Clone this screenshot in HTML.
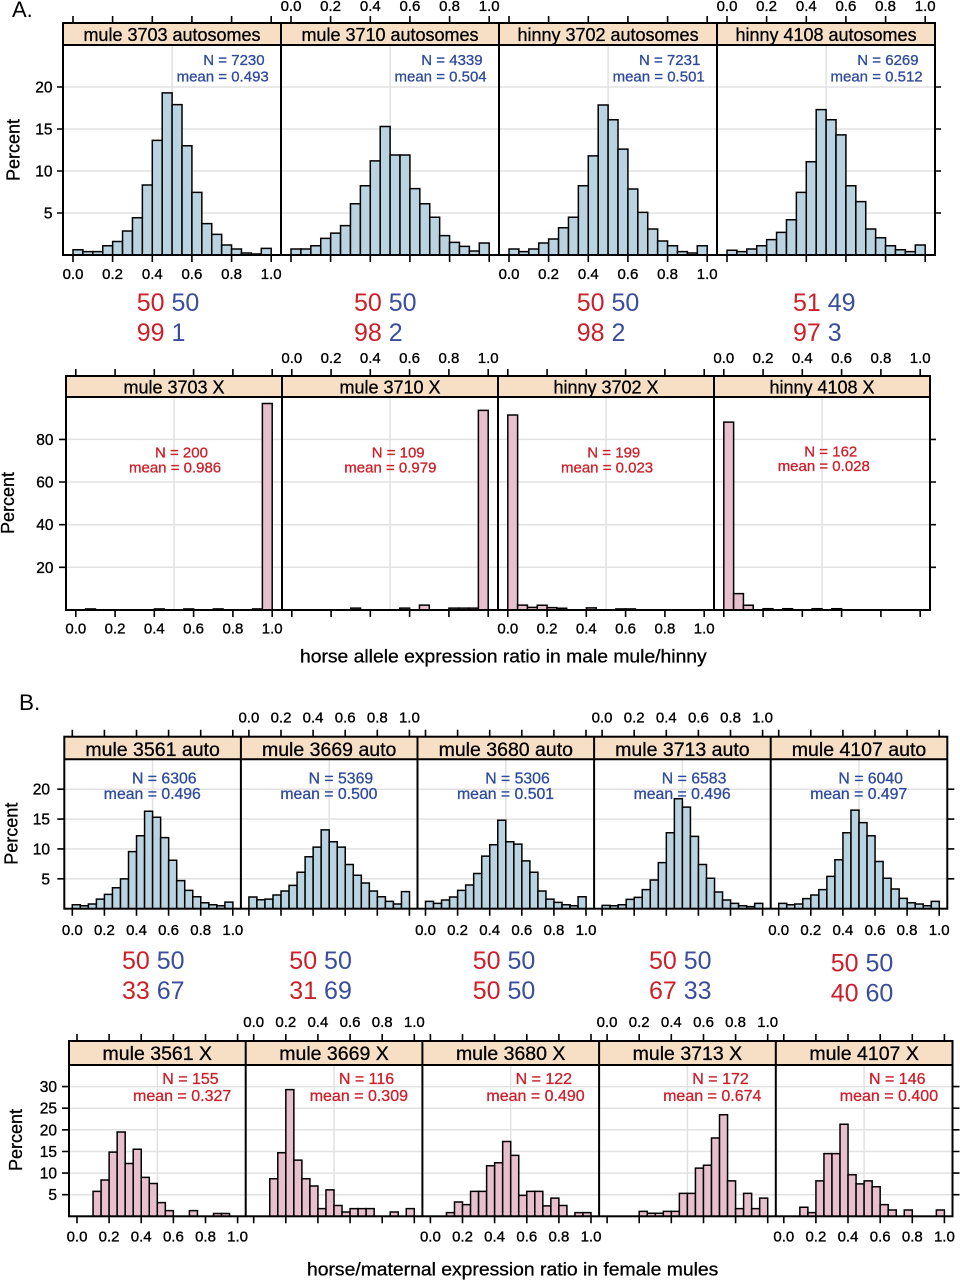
<!DOCTYPE html>
<html><head><meta charset="utf-8"><style>
html,body{margin:0;padding:0;background:#fff;}
svg{display:block;}
.h rect{vector-effect:non-scaling-stroke;}
.hb{fill:#b9d3e1;stroke:#000;stroke-width:1.5;}
.hp{fill:#e8bfcc;stroke:#000;stroke-width:1.5;}
.g{stroke:#e2e2e2;stroke-width:1.5;fill:none;}
.f{stroke:#000;stroke-width:2;fill:none;}
.t{stroke:#000;stroke-width:1.6;fill:none;}
.st{fill:#f7dfc6;}
text{font-family:"Liberation Sans",Arial,Helvetica,sans-serif;}
.tl{font-size:15px;fill:#000;text-anchor:middle;stroke:#000;stroke-width:0.35;}
.yl{font-size:15.5px;fill:#000;text-anchor:end;stroke:#000;stroke-width:0.35;}
.sa{font-size:18px;text-anchor:middle;fill:#000;stroke:#000;stroke-width:0.3;}
.sb{font-size:19.5px;text-anchor:middle;fill:#000;stroke:#000;stroke-width:0.3;}
.nb{font-size:15px;fill:#2f4b9b;stroke:#2f4b9b;stroke-width:0.3;}
.nb2{font-size:15.8px;fill:#2f4b9b;stroke:#2f4b9b;stroke-width:0.3;}
.nr{font-size:15px;fill:#cd1f2a;stroke:#cd1f2a;stroke-width:0.3;}
.nr2{font-size:16px;fill:#cd1f2a;stroke:#cd1f2a;stroke-width:0.3;}
.big{font-size:25px;}
.R{fill:#cc1f2a;}
.B{fill:#3a4d9c;}
.pc{font-size:18px;fill:#000;text-anchor:middle;stroke:#000;stroke-width:0.3;}
.ttl{fill:#000;stroke:#000;stroke-width:0.3;}
</style></head><body>
<svg width="960" height="1280" viewBox="0 0 960 1280" xmlns="http://www.w3.org/2000/svg">

<!-- ===================== A. autosomes ===================== -->
<text x="12" y="17" font-size="22" fill="#000">A.</text>
<rect class="st" x="63" y="23" width="872" height="22"/>
<path class="g" d="M63 213H935M63 171H935M63 129H935M63 87H935M172.1 45V255M390.1 45V255M608.1 45V255M826.1 45V255"/>
<g class="h hb" transform="translate(73,255) scale(9.91,-8.4)">
<rect x="0" width="1" height="0.63"/><rect x="1" width="1" height="0.4"/><rect x="2" width="1" height="0.4"/><rect x="3" width="1" height="1.1"/><rect x="4" width="1" height="1.6"/><rect x="5" width="1" height="2.86"/><rect x="6" width="1" height="4.44"/><rect x="7" width="1" height="8.33"/><rect x="8" width="1" height="13.65"/><rect x="9" width="1" height="19.3"/><rect x="10" width="1" height="17.9"/><rect x="11" width="1" height="13.0"/><rect x="12" width="1" height="7.46"/><rect x="13" width="1" height="3.73"/><rect x="14" width="1" height="2.46"/><rect x="15" width="1" height="1.19"/><rect x="16" width="1" height="0.71"/><rect x="17" width="1" height="0.24"/><rect x="18" width="1" height="0.12"/><rect x="19" width="1" height="0.79"/>
</g>
<g class="h hb" transform="translate(291,255) scale(9.91,-8.4)">
<rect x="0" width="1" height="0.71"/><rect x="1" width="1" height="0.71"/><rect x="2" width="1" height="1.1"/><rect x="3" width="1" height="1.98"/><rect x="4" width="1" height="2.6"/><rect x="5" width="1" height="3.5"/><rect x="6" width="1" height="6.1"/><rect x="7" width="1" height="8.25"/><rect x="8" width="1" height="11.2"/><rect x="9" width="1" height="15.3"/><rect x="10" width="1" height="11.9"/><rect x="11" width="1" height="11.9"/><rect x="12" width="1" height="7.9"/><rect x="13" width="1" height="6.1"/><rect x="14" width="1" height="4.5"/><rect x="15" width="1" height="2.3"/><rect x="16" width="1" height="1.5"/><rect x="17" width="1" height="1.03"/><rect x="18" width="1" height="0.48"/><rect x="19" width="1" height="1.43"/>
</g>
<g class="h hb" transform="translate(509,255) scale(9.91,-8.4)">
<rect x="0" width="1" height="0.71"/><rect x="1" width="1" height="0.4"/><rect x="2" width="1" height="0.71"/><rect x="3" width="1" height="1.43"/><rect x="4" width="1" height="1.9"/><rect x="5" width="1" height="3.25"/><rect x="6" width="1" height="4.5"/><rect x="7" width="1" height="8.25"/><rect x="8" width="1" height="11.8"/><rect x="9" width="1" height="17.86"/><rect x="10" width="1" height="16.1"/><rect x="11" width="1" height="12.6"/><rect x="12" width="1" height="7.86"/><rect x="13" width="1" height="5.08"/><rect x="14" width="1" height="3.1"/><rect x="15" width="1" height="1.67"/><rect x="16" width="1" height="1.1"/><rect x="17" width="1" height="0.4"/><rect x="18" width="1" height="0.24"/><rect x="19" width="1" height="1.1"/>
</g>
<g class="h hb" transform="translate(727,255) scale(9.91,-8.4)">
<rect x="0" width="1" height="0.56"/><rect x="1" width="1" height="0.4"/><rect x="2" width="1" height="0.71"/><rect x="3" width="1" height="1.1"/><rect x="4" width="1" height="1.83"/><rect x="5" width="1" height="2.7"/><rect x="6" width="1" height="4.2"/><rect x="7" width="1" height="7.46"/><rect x="8" width="1" height="11.1"/><rect x="9" width="1" height="17.3"/><rect x="10" width="1" height="16.1"/><rect x="11" width="1" height="14.3"/><rect x="12" width="1" height="8.25"/><rect x="13" width="1" height="6.35"/><rect x="14" width="1" height="3.1"/><rect x="15" width="1" height="2.06"/><rect x="16" width="1" height="1.1"/><rect x="17" width="1" height="0.63"/><rect x="18" width="1" height="0.4"/><rect x="19" width="1" height="1.19"/>
</g>
<rect class="f" x="63" y="23" width="872" height="232"/>
<path class="f" d="M63 45H935M281 23V255M499 23V255M717 23V255"/>
<path class="t" d="M73 255v7M112.6 255v7M152.3 255v7M191.9 255v7M231.6 255v7M271.2 255v7M291 255v7M330.6 255v7M370.3 255v7M409.9 255v7M449.6 255v7M489.2 255v7M509 255v7M548.6 255v7M588.3 255v7M627.9 255v7M667.6 255v7M707.2 255v7M727 255v7M766.6 255v7M806.3 255v7M845.9 255v7M885.6 255v7M925.2 255v7
M73 23v-7M112.6 23v-7M152.3 23v-7M191.9 23v-7M231.6 23v-7M271.2 23v-7M291 23v-7M330.6 23v-7M370.3 23v-7M409.9 23v-7M449.6 23v-7M489.2 23v-7M509 23v-7M548.6 23v-7M588.3 23v-7M627.9 23v-7M667.6 23v-7M707.2 23v-7M727 23v-7M766.6 23v-7M806.3 23v-7M845.9 23v-7M885.6 23v-7M925.2 23v-7
M63 87h-6M63 129h-6M63 171h-6M63 213h-6M935 87h6M935 129h6M935 171h6M935 213h6"/>
<g class="tl">
<text x="73" y="279">0.0</text><text x="112.6" y="279">0.2</text><text x="152.3" y="279">0.4</text><text x="191.9" y="279">0.6</text><text x="231.6" y="279">0.8</text><text x="271.2" y="279">1.0</text>
<text x="509" y="279">0.0</text><text x="548.6" y="279">0.2</text><text x="588.3" y="279">0.4</text><text x="627.9" y="279">0.6</text><text x="667.6" y="279">0.8</text><text x="707.2" y="279">1.0</text>
<text x="291" y="11">0.0</text><text x="330.6" y="11">0.2</text><text x="370.3" y="11">0.4</text><text x="409.9" y="11">0.6</text><text x="449.6" y="11">0.8</text><text x="489.2" y="11">1.0</text>
<text x="727" y="11">0.0</text><text x="766.6" y="11">0.2</text><text x="806.3" y="11">0.4</text><text x="845.9" y="11">0.6</text><text x="885.6" y="11">0.8</text><text x="925.2" y="11">1.0</text>
</g>
<g class="yl"><text x="52.5" y="92.5">20</text><text x="52.5" y="134.5">15</text><text x="52.5" y="176.5">10</text><text x="52.5" y="218.5">5</text></g>
<text class="pc" font-size="17.5" transform="translate(19.5,150) rotate(-90)">Percent</text>
<g class="sa"><text x="172" y="41">mule 3703 autosomes</text><text x="390" y="41">mule 3710 autosomes</text><text x="608" y="41">hinny 3702 autosomes</text><text x="826" y="41">hinny 4108 autosomes</text></g>
<g class="nb">
<text x="203.3" y="65">N = 7230</text><text x="176.6" y="81.5">mean = 0.493</text>
<text x="421.3" y="65">N = 4339</text><text x="394.5" y="81.5">mean = 0.504</text>
<text x="639" y="65">N = 7231</text><text x="612.6" y="81.5">mean = 0.501</text>
<text x="857.3" y="65">N = 6269</text><text x="830.5" y="81.5">mean = 0.512</text>
</g>
<g class="big">
<text x="136.7" y="311"><tspan class="R">50</tspan><tspan class="B"> 50</tspan></text>
<text x="136.7" y="341"><tspan class="R">99</tspan><tspan class="B"> 1</tspan></text>
<text x="354" y="311"><tspan class="R">50</tspan><tspan class="B"> 50</tspan></text>
<text x="354" y="341"><tspan class="R">98</tspan><tspan class="B"> 2</tspan></text>
<text x="576.7" y="311"><tspan class="R">50</tspan><tspan class="B"> 50</tspan></text>
<text x="576.7" y="341"><tspan class="R">98</tspan><tspan class="B"> 2</tspan></text>
<text x="793" y="311"><tspan class="R">51</tspan><tspan class="B"> 49</tspan></text>
<text x="793" y="341"><tspan class="R">97</tspan><tspan class="B"> 3</tspan></text>
</g>

<!-- ===================== A. X ===================== -->
<rect class="st" x="66" y="376" width="864" height="21"/>
<path class="g" d="M66 567.3H930M66 524.7H930M66 482H930M66 439.4H930M174 397V610M390 397V610M606 397V610M822 397V610"/>
<g class="h hp" transform="translate(75.8,610) scale(9.82,-2.133)">
<rect x="1" width="1" height="0.5"/><rect x="8" width="1" height="0.5"/><rect x="11" width="1" height="0.5"/><rect x="14" width="1" height="0.5"/><rect x="18" width="1" height="0.5"/><rect x="19" width="1" height="96.8"/>
</g>
<g class="h hp" transform="translate(291.8,610) scale(9.82,-2.133)">
<rect x="6" width="1" height="0.9"/><rect x="11" width="1" height="0.9"/><rect x="13" width="1" height="2.3"/><rect x="16" width="1" height="0.9"/><rect x="17" width="1" height="0.9"/><rect x="18" width="1" height="0.9"/><rect x="19" width="1" height="93.6"/>
</g>
<g class="h hp" transform="translate(507.8,610) scale(9.82,-2.133)">
<rect x="0" width="1" height="91.4"/><rect x="1" width="1" height="2.3"/><rect x="2" width="1" height="1.25"/><rect x="3" width="1" height="2.2"/><rect x="4" width="1" height="1.1"/><rect x="5" width="1" height="0.8"/><rect x="8" width="1" height="1.0"/><rect x="11" width="1" height="0.5"/><rect x="12" width="1" height="0.5"/>
</g>
<g class="h hp" transform="translate(723.8,610) scale(9.82,-2.133)">
<rect x="0" width="1" height="88.1"/><rect x="1" width="1" height="7.65"/><rect x="2" width="1" height="2.2"/><rect x="4" width="1" height="0.6"/><rect x="6" width="1" height="0.6"/><rect x="9" width="1" height="0.6"/><rect x="11" width="1" height="0.6"/>
</g>
<rect class="f" x="66" y="376" width="864" height="234"/>
<path class="f" d="M66 397H930M282 376V610M498 376V610M714 376V610"/>
<path class="t" d="M75.8 610v7M115.1 610v7M154.3 610v7M193.6 610v7M232.9 610v7M272.2 610v7M291.8 610v7M331.1 610v7M370.3 610v7M409.6 610v7M448.9 610v7M488.2 610v7M507.8 610v7M547.1 610v7M586.3 610v7M625.6 610v7M664.9 610v7M704.2 610v7M723.8 610v7M763.1 610v7M802.3 610v7M841.6 610v7M880.9 610v7M920.2 610v7
M75.8 376v-7M115.1 376v-7M154.3 376v-7M193.6 376v-7M232.9 376v-7M272.2 376v-7M291.8 376v-7M331.1 376v-7M370.3 376v-7M409.6 376v-7M448.9 376v-7M488.2 376v-7M507.8 376v-7M547.1 376v-7M586.3 376v-7M625.6 376v-7M664.9 376v-7M704.2 376v-7M723.8 376v-7M763.1 376v-7M802.3 376v-7M841.6 376v-7M880.9 376v-7M920.2 376v-7
M66 439.4h-7M66 482h-7M66 524.7h-7M66 567.3h-7M930 439.4h6M930 482h6M930 524.7h6M930 567.3h6"/>
<g class="tl">
<text x="75.8" y="633.5">0.0</text><text x="115.1" y="633.5">0.2</text><text x="154.3" y="633.5">0.4</text><text x="193.6" y="633.5">0.6</text><text x="232.9" y="633.5">0.8</text><text x="272.2" y="633.5">1.0</text>
<text x="507.8" y="633.5">0.0</text><text x="547.1" y="633.5">0.2</text><text x="586.3" y="633.5">0.4</text><text x="625.6" y="633.5">0.6</text><text x="664.9" y="633.5">0.8</text><text x="704.2" y="633.5">1.0</text>
<text x="291.8" y="363">0.0</text><text x="331.1" y="363">0.2</text><text x="370.3" y="363">0.4</text><text x="409.6" y="363">0.6</text><text x="448.9" y="363">0.8</text><text x="488.2" y="363">1.0</text>
<text x="723.8" y="363">0.0</text><text x="763.1" y="363">0.2</text><text x="802.3" y="363">0.4</text><text x="841.6" y="363">0.6</text><text x="880.9" y="363">0.8</text><text x="920.2" y="363">1.0</text>
</g>
<g class="yl"><text x="53.5" y="444.9">80</text><text x="53.5" y="487.5">60</text><text x="53.5" y="530.2">40</text><text x="53.5" y="572.8">20</text></g>
<text class="pc" font-size="17.5" transform="translate(14,503) rotate(-90)">Percent</text>
<g class="sa"><text x="174" y="393.3">mule 3703 X</text><text x="390" y="393.3">mule 3710 X</text><text x="606" y="393.3">hinny 3702 X</text><text x="822" y="393.3">hinny 4108 X</text></g>
<g class="nr">
<text x="155" y="457.7">N = 200</text><text x="129" y="472.7">mean = 0.986</text>
<text x="371.7" y="457.7">N = 109</text><text x="344.3" y="472.7">mean = 0.979</text>
<text x="587.3" y="457.7">N = 199</text><text x="561" y="472.7">mean = 0.023</text>
<text x="804.3" y="456.7">N = 162</text><text x="777.7" y="471.2">mean = 0.028</text>
</g>
<text class="ttl" x="300" y="662.7" font-size="18" textLength="406.7" lengthAdjust="spacingAndGlyphs">horse allele expression ratio in male mule/hinny</text>

<!-- ===================== B. auto ===================== -->
<text x="19" y="710" font-size="22.5" fill="#000">B.</text>
<rect class="st" x="64.3" y="736.7" width="883" height="22.6"/>
<path class="g" d="M64.3 878.8H947.3M64.3 848.9H947.3M64.3 819.1H947.3M64.3 789.2H947.3M152.6 759.3V908.7M329.2 759.3V908.7M505.8 759.3V908.7M682.4 759.3V908.7M859 759.3V908.7"/>
<g class="h hb" transform="translate(72.3,908.7) scale(8.03,-5.976)">
<rect x="0" width="1" height="0.67"/><rect x="1" width="1" height="0.5"/><rect x="2" width="1" height="0.78"/><rect x="3" width="1" height="1.6"/><rect x="4" width="1" height="2.4"/><rect x="5" width="1" height="3.5"/><rect x="6" width="1" height="5.0"/><rect x="7" width="1" height="9.55"/><rect x="8" width="1" height="12.2"/><rect x="9" width="1" height="16.3"/><rect x="10" width="1" height="15.3"/><rect x="11" width="1" height="11.9"/><rect x="12" width="1" height="8.1"/><rect x="13" width="1" height="4.7"/><rect x="14" width="1" height="3.07"/><rect x="15" width="1" height="2.0"/><rect x="16" width="1" height="1.0"/><rect x="17" width="1" height="0.67"/><rect x="18" width="1" height="0.5"/><rect x="19" width="1" height="1.1"/>
</g>
<g class="h hb" transform="translate(248.9,908.7) scale(8.03,-5.976)">
<rect x="0" width="1" height="1.96"/><rect x="1" width="1" height="1.5"/><rect x="2" width="1" height="1.6"/><rect x="3" width="1" height="2.3"/><rect x="4" width="1" height="2.96"/><rect x="5" width="1" height="3.9"/><rect x="6" width="1" height="6.1"/><rect x="7" width="1" height="8.7"/><rect x="8" width="1" height="10.3"/><rect x="9" width="1" height="13.2"/><rect x="10" width="1" height="11.2"/><rect x="11" width="1" height="10.3"/><rect x="12" width="1" height="7.4"/><rect x="13" width="1" height="5.6"/><rect x="14" width="1" height="4.3"/><rect x="15" width="1" height="2.96"/><rect x="16" width="1" height="2.0"/><rect x="17" width="1" height="1.23"/><rect x="18" width="1" height="0.78"/><rect x="19" width="1" height="2.85"/>
</g>
<g class="h hb" transform="translate(425.5,908.7) scale(8.03,-5.976)">
<rect x="0" width="1" height="1.23"/><rect x="1" width="1" height="0.9"/><rect x="2" width="1" height="1.45"/><rect x="3" width="1" height="1.96"/><rect x="4" width="1" height="3.07"/><rect x="5" width="1" height="3.97"/><rect x="6" width="1" height="5.9"/><rect x="7" width="1" height="8.8"/><rect x="8" width="1" height="10.7"/><rect x="9" width="1" height="14.8"/><rect x="10" width="1" height="11.2"/><rect x="11" width="1" height="10.8"/><rect x="12" width="1" height="8.0"/><rect x="13" width="1" height="6.1"/><rect x="14" width="1" height="2.96"/><rect x="15" width="1" height="1.6"/><rect x="16" width="1" height="1.06"/><rect x="17" width="1" height="0.67"/><rect x="18" width="1" height="0.5"/><rect x="19" width="1" height="2.0"/>
</g>
<g class="h hb" transform="translate(602.1,908.7) scale(8.03,-5.976)">
<rect x="0" width="1" height="0.56"/><rect x="1" width="1" height="0.5"/><rect x="2" width="1" height="0.67"/><rect x="3" width="1" height="1.56"/><rect x="4" width="1" height="1.9"/><rect x="5" width="1" height="3.2"/><rect x="6" width="1" height="4.8"/><rect x="7" width="1" height="7.7"/><rect x="8" width="1" height="12.7"/><rect x="9" width="1" height="18.4"/><rect x="10" width="1" height="17.0"/><rect x="11" width="1" height="12.1"/><rect x="12" width="1" height="7.4"/><rect x="13" width="1" height="5.1"/><rect x="14" width="1" height="2.8"/><rect x="15" width="1" height="1.45"/><rect x="16" width="1" height="0.9"/><rect x="17" width="1" height="0.5"/><rect x="18" width="1" height="0.34"/><rect x="19" width="1" height="0.9"/>
</g>
<g class="h hb" transform="translate(778.7,908.7) scale(8.03,-5.976)">
<rect x="0" width="1" height="0.9"/><rect x="1" width="1" height="0.67"/><rect x="2" width="1" height="0.78"/><rect x="3" width="1" height="1.68"/><rect x="4" width="1" height="2.3"/><rect x="5" width="1" height="3.2"/><rect x="6" width="1" height="5.4"/><rect x="7" width="1" height="8.2"/><rect x="8" width="1" height="12.7"/><rect x="9" width="1" height="16.5"/><rect x="10" width="1" height="14.4"/><rect x="11" width="1" height="12.2"/><rect x="12" width="1" height="7.9"/><rect x="13" width="1" height="5.1"/><rect x="14" width="1" height="3.3"/><rect x="15" width="1" height="1.73"/><rect x="16" width="1" height="1.0"/><rect x="17" width="1" height="0.78"/><rect x="18" width="1" height="0.5"/><rect x="19" width="1" height="1.23"/>
</g>
<rect class="f" x="64.3" y="736.7" width="883" height="172"/>
<path class="f" d="M64.3 759.3H947.3M240.9 736.7V908.7M417.5 736.7V908.7M594.1 736.7V908.7M770.7 736.7V908.7"/>
<path class="t" d="M72.3 908.7v7M104.4 908.7v7M136.5 908.7v7M168.6 908.7v7M200.7 908.7v7M232.8 908.7v7M248.9 908.7v7M281 908.7v7M313.1 908.7v7M345.2 908.7v7M377.3 908.7v7M409.4 908.7v7M425.5 908.7v7M457.6 908.7v7M489.7 908.7v7M521.8 908.7v7M553.9 908.7v7M586 908.7v7M602.1 908.7v7M634.2 908.7v7M666.3 908.7v7M698.4 908.7v7M730.5 908.7v7M762.6 908.7v7M778.7 908.7v7M810.8 908.7v7M842.9 908.7v7M875 908.7v7M907.1 908.7v7M939.2 908.7v7
M72.3 736.7v-7M104.4 736.7v-7M136.5 736.7v-7M168.6 736.7v-7M200.7 736.7v-7M232.8 736.7v-7M248.9 736.7v-7M281 736.7v-7M313.1 736.7v-7M345.2 736.7v-7M377.3 736.7v-7M409.4 736.7v-7M425.5 736.7v-7M457.6 736.7v-7M489.7 736.7v-7M521.8 736.7v-7M553.9 736.7v-7M586 736.7v-7M602.1 736.7v-7M634.2 736.7v-7M666.3 736.7v-7M698.4 736.7v-7M730.5 736.7v-7M762.6 736.7v-7M778.7 736.7v-7M810.8 736.7v-7M842.9 736.7v-7M875 736.7v-7M907.1 736.7v-7M939.2 736.7v-7
M64.3 789.2h-7M64.3 819.1h-7M64.3 848.9h-7M64.3 878.8h-7M947.3 789.2h7M947.3 819.1h7M947.3 848.9h7M947.3 878.8h7"/>
<g class="tl">
<text x="72.3" y="934.8">0.0</text><text x="104.4" y="934.8">0.2</text><text x="136.5" y="934.8">0.4</text><text x="168.6" y="934.8">0.6</text><text x="200.7" y="934.8">0.8</text><text x="232.8" y="934.8">1.0</text>
<text x="425.5" y="934.8">0.0</text><text x="457.6" y="934.8">0.2</text><text x="489.7" y="934.8">0.4</text><text x="521.8" y="934.8">0.6</text><text x="553.9" y="934.8">0.8</text><text x="586" y="934.8">1.0</text>
<text x="778.7" y="934.8">0.0</text><text x="810.8" y="934.8">0.2</text><text x="842.9" y="934.8">0.4</text><text x="875" y="934.8">0.6</text><text x="907.1" y="934.8">0.8</text><text x="939.2" y="934.8">1.0</text>
<text x="248.9" y="722.5">0.0</text><text x="281" y="722.5">0.2</text><text x="313.1" y="722.5">0.4</text><text x="345.2" y="722.5">0.6</text><text x="377.3" y="722.5">0.8</text><text x="409.4" y="722.5">1.0</text>
<text x="602.1" y="722.5">0.0</text><text x="634.2" y="722.5">0.2</text><text x="666.3" y="722.5">0.4</text><text x="698.4" y="722.5">0.6</text><text x="730.5" y="722.5">0.8</text><text x="762.6" y="722.5">1.0</text>
</g>
<g class="yl"><text x="50" y="794.7">20</text><text x="50" y="824.6">15</text><text x="50" y="854.4">10</text><text x="50" y="884.3">5</text></g>
<text class="pc" font-size="19" transform="translate(17.5,833.7) rotate(-90)">Percent</text>
<g class="sb"><text x="152.6" y="756">mule 3561 auto</text><text x="329.2" y="756">mule 3669 auto</text><text x="505.8" y="756">mule 3680 auto</text><text x="682.4" y="756">mule 3713 auto</text><text x="859" y="756">mule 4107 auto</text></g>
<g class="nb2">
<text x="132" y="783.7">N = 6306</text><text x="103.8" y="799">mean = 0.496</text>
<text x="308.6" y="783.7">N = 5369</text><text x="280.4" y="799">mean = 0.500</text>
<text x="485.2" y="783.7">N = 5306</text><text x="457" y="799">mean = 0.501</text>
<text x="661.8" y="783.7">N = 6583</text><text x="633.6" y="799">mean = 0.496</text>
<text x="838.4" y="783.7">N = 6040</text><text x="810.2" y="799">mean = 0.497</text>
</g>
<g class="big">
<text x="122" y="969"><tspan class="R">50</tspan><tspan class="B"> 50</tspan></text>
<text x="122" y="999"><tspan class="R">33</tspan><tspan class="B"> 67</tspan></text>
<text x="289.3" y="969"><tspan class="R">50</tspan><tspan class="B"> 50</tspan></text>
<text x="289.3" y="999"><tspan class="R">31</tspan><tspan class="B"> 69</tspan></text>
<text x="472.7" y="969"><tspan class="R">50</tspan><tspan class="B"> 50</tspan></text>
<text x="472.7" y="999"><tspan class="R">50</tspan><tspan class="B"> 50</tspan></text>
<text x="649" y="969"><tspan class="R">50</tspan><tspan class="B"> 50</tspan></text>
<text x="649" y="999"><tspan class="R">67</tspan><tspan class="B"> 33</tspan></text>
<text x="830.7" y="971.5"><tspan class="R">50</tspan><tspan class="B"> 50</tspan></text>
<text x="830.7" y="1001.7"><tspan class="R">40</tspan><tspan class="B"> 60</tspan></text>
</g>

<!-- ===================== B. X ===================== -->
<rect class="st" x="69" y="1041" width="883.5" height="24"/>
<path class="g" d="M69 1194.7H952.5M69 1173.1H952.5M69 1151.5H952.5M69 1129.8H952.5M69 1108.2H952.5M69 1086.6H952.5M157.3 1065V1216.3M334 1065V1216.3M510.7 1065V1216.3M687.4 1065V1216.3M864.1 1065V1216.3"/>
<g class="h hp" transform="translate(77,1216.3) scale(8.03,-4.323)">
<rect x="2" width="1" height="5.77"/><rect x="3" width="1" height="8.4"/><rect x="4" width="1" height="14.85"/><rect x="5" width="1" height="19.5"/><rect x="6" width="1" height="12.2"/><rect x="7" width="1" height="15.5"/><rect x="8" width="1" height="9.0"/><rect x="9" width="1" height="7.6"/><rect x="10" width="1" height="3.15"/><rect x="11" width="1" height="1.3"/><rect x="14" width="1" height="1.3"/><rect x="17" width="1" height="0.65"/><rect x="18" width="1" height="0.65"/>
</g>
<g class="h hp" transform="translate(253.7,1216.3) scale(8.03,-4.323)">
<rect x="2" width="1" height="8.7"/><rect x="3" width="1" height="14.7"/><rect x="4" width="1" height="29.3"/><rect x="5" width="1" height="13.0"/><rect x="6" width="1" height="8.7"/><rect x="7" width="1" height="7.0"/><rect x="8" width="1" height="1.77"/><rect x="9" width="1" height="6.1"/><rect x="10" width="1" height="2.5"/><rect x="11" width="1" height="1.0"/><rect x="12" width="1" height="1.77"/><rect x="13" width="1" height="1.77"/><rect x="14" width="1" height="1.77"/><rect x="17" width="1" height="1.0"/><rect x="19" width="1" height="1.77"/>
</g>
<g class="h hp" transform="translate(430.4,1216.3) scale(8.03,-4.323)">
<rect x="2" width="1" height="0.85"/><rect x="3" width="1" height="3.3"/><rect x="4" width="1" height="2.7"/><rect x="5" width="1" height="5.77"/><rect x="6" width="1" height="5.77"/><rect x="7" width="1" height="11.7"/><rect x="8" width="1" height="12.4"/><rect x="9" width="1" height="17.3"/><rect x="10" width="1" height="14.1"/><rect x="11" width="1" height="4.85"/><rect x="12" width="1" height="5.77"/><rect x="13" width="1" height="5.77"/><rect x="14" width="1" height="2.4"/><rect x="15" width="1" height="4.2"/><rect x="16" width="1" height="2.5"/><rect x="18" width="1" height="0.85"/><rect x="19" width="1" height="0.85"/>
</g>
<g class="h hp" transform="translate(607.1,1216.3) scale(8.03,-4.323)">
<rect x="4" width="1" height="1.15"/><rect x="5" width="1" height="0.7"/><rect x="6" width="1" height="0.7"/><rect x="7" width="1" height="1.15"/><rect x="8" width="1" height="1.15"/><rect x="9" width="1" height="5.3"/><rect x="10" width="1" height="5.3"/><rect x="11" width="1" height="11.15"/><rect x="12" width="1" height="11.8"/><rect x="13" width="1" height="18.1"/><rect x="14" width="1" height="23.5"/><rect x="15" width="1" height="8.2"/><rect x="16" width="1" height="1.77"/><rect x="17" width="1" height="5.3"/><rect x="18" width="1" height="1.77"/><rect x="19" width="1" height="4.2"/>
</g>
<g class="h hp" transform="translate(783.8,1216.3) scale(8.03,-4.323)">
<rect x="2" width="1" height="2.1"/><rect x="3" width="1" height="0.85"/><rect x="4" width="1" height="8.2"/><rect x="5" width="1" height="14.5"/><rect x="6" width="1" height="14.5"/><rect x="7" width="1" height="21.3"/><rect x="8" width="1" height="9.6"/><rect x="9" width="1" height="7.5"/><rect x="10" width="1" height="8.2"/><rect x="11" width="1" height="6.85"/><rect x="12" width="1" height="2.7"/><rect x="13" width="1" height="1.46"/><rect x="15" width="1" height="1.46"/><rect x="19" width="1" height="1.46"/>
</g>
<rect class="f" x="69" y="1041" width="883.5" height="175.3"/>
<path class="f" d="M69 1065H952.5M245.7 1041V1216.3M422.4 1041V1216.3M599.1 1041V1216.3M775.8 1041V1216.3"/>
<path class="t" d="M77 1216.3v7M109.1 1216.3v7M141.2 1216.3v7M173.4 1216.3v7M205.5 1216.3v7M237.6 1216.3v7M253.7 1216.3v7M285.8 1216.3v7M317.9 1216.3v7M350.1 1216.3v7M382.2 1216.3v7M414.3 1216.3v7M430.4 1216.3v7M462.5 1216.3v7M494.6 1216.3v7M526.8 1216.3v7M558.9 1216.3v7M591 1216.3v7M607.1 1216.3v7M639.2 1216.3v7M671.3 1216.3v7M703.5 1216.3v7M735.6 1216.3v7M767.7 1216.3v7M783.8 1216.3v7M815.9 1216.3v7M848 1216.3v7M880.2 1216.3v7M912.3 1216.3v7M944.4 1216.3v7
M77 1041v-7M109.1 1041v-7M141.2 1041v-7M173.4 1041v-7M205.5 1041v-7M237.6 1041v-7M253.7 1041v-7M285.8 1041v-7M317.9 1041v-7M350.1 1041v-7M382.2 1041v-7M414.3 1041v-7M430.4 1041v-7M462.5 1041v-7M494.6 1041v-7M526.8 1041v-7M558.9 1041v-7M591 1041v-7M607.1 1041v-7M639.2 1041v-7M671.3 1041v-7M703.5 1041v-7M735.6 1041v-7M767.7 1041v-7M783.8 1041v-7M815.9 1041v-7M848 1041v-7M880.2 1041v-7M912.3 1041v-7M944.4 1041v-7
M69 1086.6h-7M69 1108.2h-7M69 1129.8h-7M69 1151.5h-7M69 1173.1h-7M69 1194.7h-7M952.5 1086.6h7M952.5 1108.2h7M952.5 1129.8h7M952.5 1151.5h7M952.5 1173.1h7M952.5 1194.7h7"/>
<g class="tl">
<text x="77" y="1241.5">0.0</text><text x="109.1" y="1241.5">0.2</text><text x="141.2" y="1241.5">0.4</text><text x="173.4" y="1241.5">0.6</text><text x="205.5" y="1241.5">0.8</text><text x="237.6" y="1241.5">1.0</text>
<text x="430.4" y="1241.5">0.0</text><text x="462.5" y="1241.5">0.2</text><text x="494.6" y="1241.5">0.4</text><text x="526.8" y="1241.5">0.6</text><text x="558.9" y="1241.5">0.8</text><text x="591" y="1241.5">1.0</text>
<text x="783.8" y="1241.5">0.0</text><text x="815.9" y="1241.5">0.2</text><text x="848" y="1241.5">0.4</text><text x="880.2" y="1241.5">0.6</text><text x="912.3" y="1241.5">0.8</text><text x="944.4" y="1241.5">1.0</text>
<text x="253.7" y="1027.2">0.0</text><text x="285.8" y="1027.2">0.2</text><text x="317.9" y="1027.2">0.4</text><text x="350.1" y="1027.2">0.6</text><text x="382.2" y="1027.2">0.8</text><text x="414.3" y="1027.2">1.0</text>
<text x="607.1" y="1027.2">0.0</text><text x="639.2" y="1027.2">0.2</text><text x="671.3" y="1027.2">0.4</text><text x="703.5" y="1027.2">0.6</text><text x="735.6" y="1027.2">0.8</text><text x="767.7" y="1027.2">1.0</text>
</g>
<g class="yl"><text x="57" y="1092.1">30</text><text x="57" y="1113.7">25</text><text x="57" y="1135.3">20</text><text x="57" y="1157">15</text><text x="57" y="1178.6">10</text><text x="57" y="1200.2">5</text></g>
<text class="pc" font-size="19" transform="translate(22,1140) rotate(-90)">Percent</text>
<g class="sb"><text x="157.3" y="1060">mule 3561 X</text><text x="334" y="1060">mule 3669 X</text><text x="510.7" y="1060">mule 3680 X</text><text x="687.4" y="1060">mule 3713 X</text><text x="864.1" y="1060">mule 4107 X</text></g>
<g class="nr2">
<text x="162.2" y="1084">N = 155</text><text x="133" y="1101">mean = 0.327</text>
<text x="338.9" y="1084">N = 116</text><text x="309.7" y="1101">mean = 0.309</text>
<text x="515.6" y="1084">N = 122</text><text x="486.4" y="1101">mean = 0.490</text>
<text x="692.3" y="1084">N = 172</text><text x="663.1" y="1101">mean = 0.674</text>
<text x="869" y="1084">N = 146</text><text x="839.8" y="1101">mean = 0.400</text>
</g>
<text class="ttl" x="307" y="1275.7" font-size="18.5" textLength="411.3" lengthAdjust="spacingAndGlyphs">horse/maternal expression ratio in female mules</text>
</svg>
</body></html>
